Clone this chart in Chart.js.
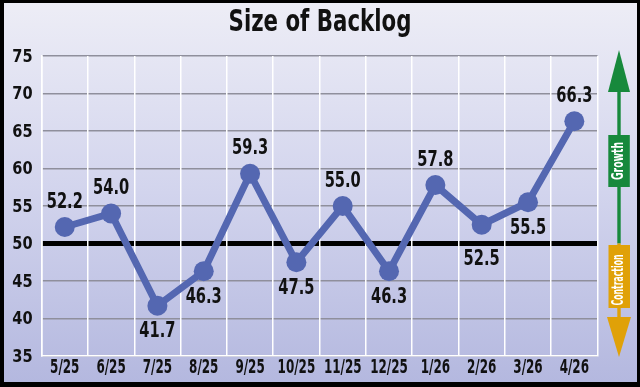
<!DOCTYPE html>
<html>
<head>
<meta charset="utf-8">
<script src="https://cdn.jsdelivr.net/npm/chart.js@4/dist/chart.umd.min.js"></script>
<style>
    html, body { margin: 0; padding: 0; background: #000; }
    #wrap { width: 640px; height: 387px; }
</style>
</head>
<body>
<div id="wrap"><canvas id="myChart" width="640" height="387"></canvas></div>
<script>
// datos del grafico
const titulo = 'Size of Backlog';
const meses = ['5/25', '6/25', '7/25', '8/25', '9/25', '10/25', '11/25', '12/25', '1/26', '2/26', '3/26', '4/26'];
const backlog = [52.2, 54.0, 41.7, 46.3, 59.3, 47.5, 55.0, 46.3, 57.8, 52.5, 55.5, 66.3];
const ladoEtiqueta = ['top', 'top', 'bottom', 'bottom', 'top', 'bottom', 'top', 'bottom', 'top', 'bottom', 'bottom', 'top'];
const marcasY = [35, 40, 45, 50, 55, 60, 65, 70, 75];
const lineaBase = 50;

const fuente = '"DejaVu Sans Condensed", "DejaVu Sans", sans-serif';
const azul = '#5467b1';

// texto comprimido a lo ancho (la fuente original es muy estrecha)
function textoEstrecho(ctx, txt, x, y, factor) {
    ctx.save();
    ctx.translate(x, y);
    ctx.scale(factor, 1);
    ctx.fillText(txt, 0, 0);
    ctx.restore();
}

// fondo degradado y borde negro
const fondoPlugin = {
    id: 'fondo',
    beforeDraw(chart) {
        const ctx = chart.ctx;
        ctx.save();
        ctx.fillStyle = '#000';
        ctx.fillRect(0, 0, chart.width, chart.height);
        const grad = ctx.createLinearGradient(0, 3, 0, chart.height - 5);
        grad.addColorStop(0, '#ededf6');
        grad.addColorStop(0.5, '#d2d4ed');
        grad.addColorStop(1, '#b4b8df');
        ctx.fillStyle = grad;
        ctx.fillRect(4, 3, chart.width - 7, chart.height - 8);
        ctx.restore();
    }
};

// titulo y marcas de los ejes
const textosPlugin = {
    id: 'textos',
    afterDraw(chart) {
        const ctx = chart.ctx;
        const sx = chart.scales.x;
        const sy = chart.scales.y;
        ctx.save();
        ctx.fillStyle = '#111';
        ctx.textBaseline = 'middle';

        ctx.textAlign = 'center';
        ctx.font = 'bold 30px ' + fuente;
        textoEstrecho(ctx, titulo, 320, 23, 0.79);

        ctx.font = 'bold 19px ' + fuente;
        meses.forEach(function (m, i) {
            textoEstrecho(ctx, m, sx.getPixelForValue(i), 368, 0.7);
        });

        ctx.textAlign = 'right';
        ctx.font = 'bold 18px ' + fuente;
        marcasY.forEach(function (v) {
            textoEstrecho(ctx, String(v), sx.left - 9, sy.getPixelForValue(v) + 1, 0.9);
        });
        ctx.restore();
    }
};

// etiquetas con el valor de cada punto
const etiquetasPlugin = {
    id: 'etiquetas',
    afterDatasetsDraw(chart) {
        const ctx = chart.ctx;
        const meta = chart.getDatasetMeta(0);
        const y50 = chart.scales.y.getPixelForValue(lineaBase);
        ctx.save();
        ctx.font = 'bold 22px ' + fuente;
        ctx.fillStyle = '#111';
        ctx.textAlign = 'center';
        ctx.textBaseline = 'middle';
        meta.data.forEach(function (pt, i) {
            let y = ladoEtiqueta[i] === 'top' ? pt.y - 25 : pt.y + 26;
            // no tapar la linea del 50
            if (Math.abs(y - y50) < 12) {
                y = y < y50 ? y50 - 16 : y50 + 16;
            }
            textoEstrecho(ctx, backlog[i].toFixed(1), pt.x, y, 0.74);
        });
        ctx.restore();
    }
};

// flecha Growth / Contraction a la derecha
const flechaPlugin = {
    id: 'flecha',
    afterDraw(chart) {
        const ctx = chart.ctx;
        const y50 = chart.scales.y.getPixelForValue(lineaBase);
        const cx = 619;
        const verde = '#17893c';
        const naranja = '#e0a108';
        ctx.save();
        // tramo verde
        ctx.fillStyle = verde;
        ctx.fillRect(cx - 1.7, 88, 3.4, y50 - 88);
        ctx.beginPath();
        ctx.moveTo(cx, 50);
        ctx.lineTo(cx + 11, 92);
        ctx.lineTo(cx - 11, 92);
        ctx.closePath();
        ctx.fill();
        ctx.fillRect(608.3, 135, 21.5, 52);
        // tramo naranja
        ctx.fillStyle = naranja;
        ctx.fillRect(cx - 1.7, y50, 3.4, 320 - y50);
        ctx.fillRect(608.5, 245, 21.5, 63);
        ctx.beginPath();
        ctx.moveTo(cx - 12, 317);
        ctx.lineTo(cx + 12, 317);
        ctx.lineTo(cx, 357);
        ctx.closePath();
        ctx.fill();
        // textos
        ctx.fillStyle = '#fff';
        ctx.font = 'bold 15px ' + fuente;
        ctx.textAlign = 'center';
        ctx.textBaseline = 'middle';
        ctx.translate(cx, 161);
        ctx.rotate(-Math.PI / 2);
        ctx.fillText('Growth', 0, 0, 38);
        ctx.rotate(Math.PI / 2);
        ctx.translate(0, 280 - 161);
        ctx.rotate(-Math.PI / 2);
        ctx.fillText('Contraction', 0, 0, 51);
        ctx.restore();
    }
};

const ctx = document.getElementById('myChart').getContext('2d');
const myChart = new Chart(ctx, {
    type: 'line',
    data: {
        labels: meses,
        datasets: [{
            data: backlog,
            borderColor: azul,
            backgroundColor: azul,
            borderWidth: 7,
            pointRadius: 10,
            pointBackgroundColor: azul,
            pointBorderWidth: 0,
            tension: 0
        }]
    },
    options: {
        responsive: false,
        animation: false,
        layout: {
            padding: { left: 0, right: 42.5, top: 56, bottom: 0 }
        },
        plugins: {
            legend: { display: false },
            tooltip: { enabled: false },
            title: { display: false }
        },
        scales: {
            x: {
                offset: true,
                grid: { offset: true, color: '#ffffff', lineWidth: 1.5, drawTicks: false, z: -1 },
                border: { color: '#ffffff', width: 1.5 },
                ticks: { display: false, autoSkip: false, maxRotation: 0 },
                afterFit(scale) { scale.height = 31; }
            },
            y: {
                min: 35,
                max: 75,
                afterBuildTicks(scale) { scale.ticks = marcasY.map(v => ({ value: v })); },
                grid: {
                    drawTicks: false,
                    z: -2,
                    color: c => c.tick && c.tick.value === lineaBase ? '#000' : '#8f8f9c',
                    lineWidth: c => c.tick && c.tick.value === lineaBase ? 5 : 1.5
                },
                border: { color: '#ffffff', width: 1.5 },
                ticks: { display: false },
                afterFit(scale) { scale.width = 41.6; }
            }
        }
    },
    plugins: [fondoPlugin, etiquetasPlugin, textosPlugin, flechaPlugin]
});
</script>
</body>
</html>
